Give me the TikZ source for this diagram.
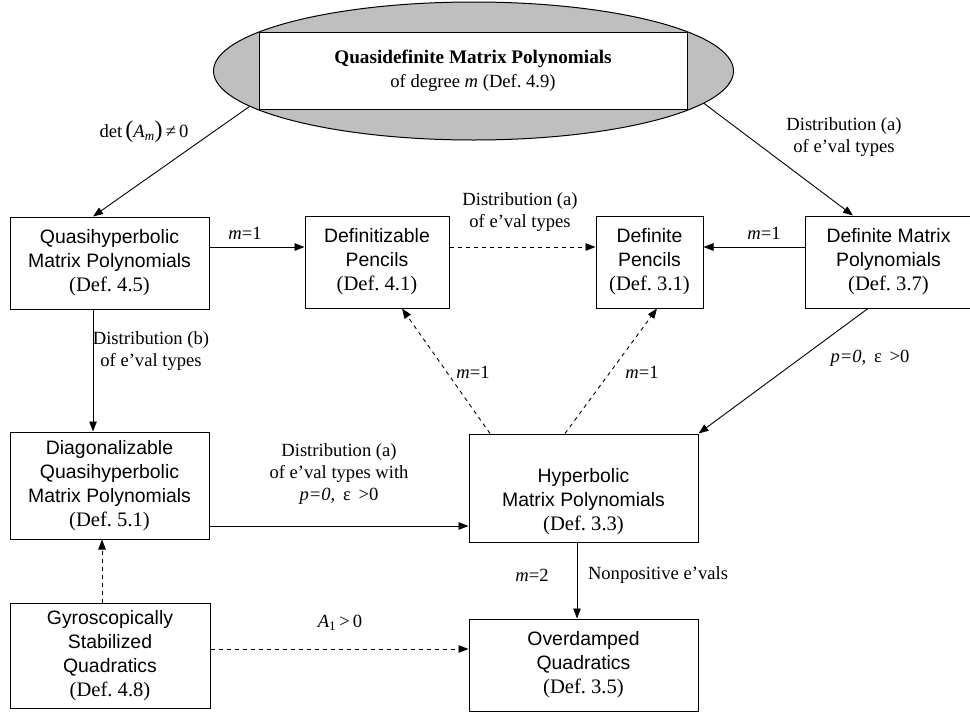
\documentclass[tikz,border=0pt]{standalone}
\usepackage{fontspec}
\setmainfont{Liberation Serif}
\setsansfont{Liberation Sans}
\usetikzlibrary{arrows.meta,shapes.geometric}
\tikzstyle{box}=[rectangle,draw,line width=1pt,fill=white,inner sep=0pt,align=center,font=\sffamily\fontsize{19.4}{24}\selectfont]
\tikzstyle{lbl}=[align=center,inner sep=0pt,font=\fontsize{18.6}{21.7}\selectfont]
\tikzstyle{link}=[line width=0.9pt,-{Triangle[length=10pt,width=7.5pt]}]
\tikzstyle{dlink}=[link,dash pattern=on 4pt off 4pt]
\newcommand{\defn}[1]{{\rmfamily\fontsize{20.6}{24}\selectfont (Def.~#1)}}

\begin{document}
\begin{tikzpicture}[x=1pt,y=-1pt]
  \useasboundingbox (0,0) rectangle (970,715);

  \node[ellipse,draw,line width=1pt,fill=gray!50,minimum width=520,minimum height=138,inner sep=0pt] (top) at (473.5,71) {};
  \node[box,minimum width=428,minimum height=77] (title) at (473,70.5)
    {\rmfamily\bfseries\fontsize{19.2}{21}\selectfont Quasidefinite Matrix Polynomials\\
     {\rmfamily\fontsize{18.6}{21}\selectfont of degree \textit{m} (Def.~4.9)}};

  \node[box,minimum width=199,minimum height=92] (quasihyp) at (109.5,263)
    {Quasihyperbolic\\Matrix Polynomials\\\defn{4.5}};
  \node[box,minimum width=144,minimum height=92] (definitizable) at (377,262)
    {Definitizable\\Pencils\\\defn{4.1}};
  \node[box,minimum width=107,minimum height=92] (definitepen) at (649.5,262)
    {Definite\\Pencils\\\defn{3.1}};
  \node[box,minimum width=167,minimum height=92] (definitemat) at (888.5,262)
    {Definite Matrix\\Polynomials\\\defn{3.7}};

  \node[box,minimum width=199,minimum height=107] (diag) at (109.5,485.5)
    {Diagonalizable\\Quasihyperbolic\\Matrix Polynomials\\\defn{5.1}};
  \node[box,minimum width=229,minimum height=108] (hyper) at (583.5,488)
    {\strut\\Hyperbolic\\Matrix Polynomials\\\defn{3.3}};

  \node[box,minimum width=200,minimum height=105] (gyro) at (110,655.5)
    {Gyroscopically\\Stabilized\\Quadratics\\\defn{4.8}};
  \node[box,minimum width=229,minimum height=92] (overdamped) at (583.5,665)
    {Overdamped\\Quadratics\\\defn{3.5}};

  % rows and columns of the straight links
  \coordinate (row) at (0,247);
  \coordinate (rowd) at (0,526);
  \coordinate (rowg) at (0,649);
  \coordinate (colq) at (93,0);
  \coordinate (colg) at (102,0);
  \coordinate (colh) at (577,0);

  \draw[link] (top.189) -- (quasihyp.north -| colq);
  \draw[link] (top.352) -- ([xshift=-35.5pt]definitemat.north);
  \draw[link] (quasihyp.east |- row) -- (definitizable.west |- row);
  \draw[dlink] (definitizable.east |- row) -- (definitepen.west |- row);
  \draw[link] (definitemat.west |- row) -- (definitepen.east |- row);
  \draw[link] (quasihyp.south -| colq) -- (diag.north -| colq);
  \draw[dlink] (gyro.north -| colg) -- (diag.south -| colg);
  \draw[link] (diag.east |- rowd) -- (hyper.west |- rowd);
  \draw[dlink] (gyro.east |- rowg) -- (overdamped.west |- rowg);
  \draw[link] (hyper.south -| colh) -- (overdamped.north -| colh);
  \draw[dlink] ([xshift=-93.5pt]hyper.north) -- ([xshift=25pt]definitizable.south);
  \draw[dlink] ([xshift=-18.5pt]hyper.north) -- ([xshift=7.5pt]definitepen.south);
  \draw[link] ([xshift=-20.5pt]definitemat.south) -- (hyper.north east);

  \node[lbl] (l det) at (144,132) {det\,{\fontsize{24}{24}\selectfont(}\textit{A}\textsubscript{\textit{m}}{\fontsize{24}{24}\selectfont)}\,≠\,0};
  \node[lbl] (l qd) at (245,233) {\textit{m}=1};
  \node[lbl] (l dd) at (520,212) {Distribution (a)\\of e’val types};
  \node[lbl] (l md) at (764,233) {\textit{m}=1};
  \node[lbl] (l tm) at (844,137) {Distribution (a)\\of e’val types};
  \node[lbl] (l qdiag) at (151,351) {Distribution (b)\\of e’val types};
  \node[lbl] (l h1) at (473,372) {\textit{m}=1};
  \node[lbl] (l h2) at (642,372) {\textit{m}=1};
  \node[lbl] (l mh) at (870,358) {\textit{p=0},\, ε\, >0};
  \node[lbl] (l dh) at (339,474) {Distribution (a)\\of e’val types with\\\textit{p=0},\, ε\, >0};
  \node[lbl] (l go) at (340,623) {\textit{A}\textsubscript{1}\,>\,0};
  \node[lbl] (l ho) at (532,575) {\textit{m}=2};
  \node[lbl] (l np) at (658,575) {Nonpositive e’vals};
\end{tikzpicture}
\end{document}
